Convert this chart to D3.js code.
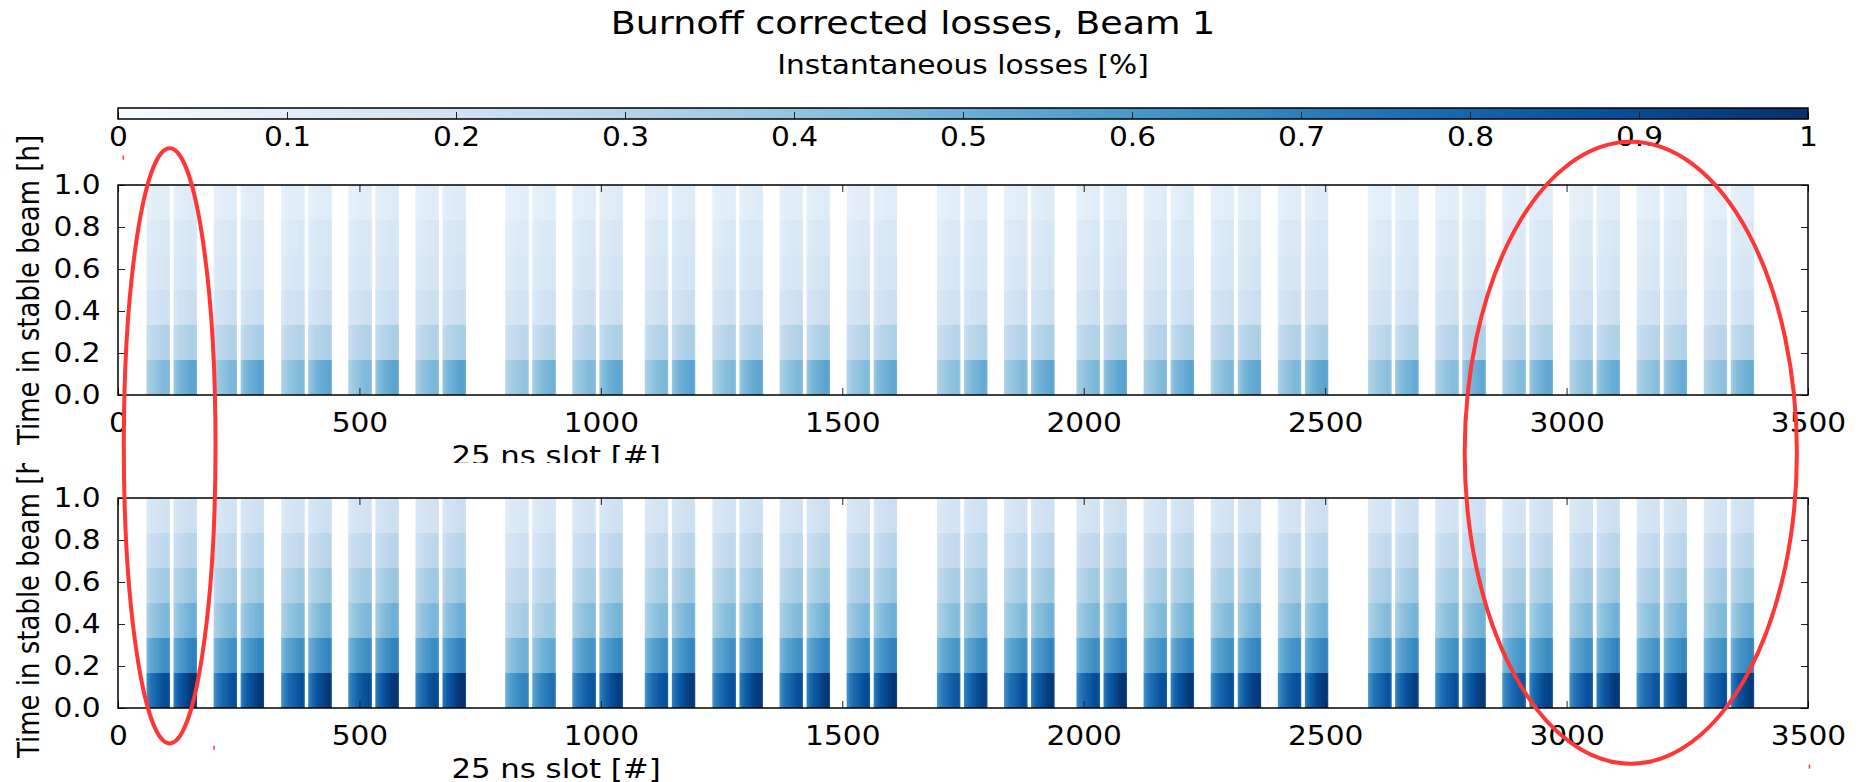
<!DOCTYPE html>
<html>
<head>
<meta charset="utf-8">
<script src="https://cdn.jsdelivr.net/npm/d3@7"></script>
<style>
  body { margin: 0; background: #fff; }
  svg { display: block; }
  text { font-family: "DejaVu Sans", sans-serif; fill: #000; }
</style>
</head>
<body>
<svg id="chart" width="1863" height="782"></svg>
<script>
// ---- filling scheme: first slot of each 2x48-bunch injection ----
const groupStarts = [59, 198, 338, 477, 616,
                     802, 941, 1091, 1231, 1370, 1509,
                     1696, 1835, 1985, 2124, 2263, 2402,
                     2589, 2728, 2867, 3006, 3145, 3284];
const trainOffsets = [0, 56];
const bunchesPerTrain = 48;

// time bins in stable beam [h]
const timeBinEdges = [0, 1 / 6, 2 / 6, 3 / 6, 4 / 6, 5 / 6, 1];

// mean instantaneous losses [%] per time bin: [first train, second train]
const lossesUpper = [[0.40, 0.48], [0.28, 0.30], [0.19, 0.20], [0.15, 0.16], [0.13, 0.14], [0.10, 0.11]];
const lossesLower = [[0.78, 0.86], [0.56, 0.60], [0.40, 0.43], [0.32, 0.34], [0.24, 0.26], [0.17, 0.19]];

// relative loss of each bunch along a 48-bunch train
const bunchProfile = [0.78, 0.80, 0.83, 0.82, 0.86, 0.88, 0.87, 0.90, 0.92, 0.91, 0.94, 0.95,
                      0.93, 0.96, 0.98, 0.97, 0.99, 1.00, 0.98, 1.01, 1.02, 1.00, 1.03, 1.04,
                      1.02, 1.05, 1.06, 1.04, 1.07, 1.06, 1.08, 1.09, 1.07, 1.10, 1.09, 1.11,
                      1.10, 1.12, 1.11, 1.13, 1.12, 1.12, 1.14, 1.13, 1.12, 1.10, 1.08, 1.04];

// relative loss of each injection
const injectionFactorUpper = [1.00, 1.02, 1.00, 1.01, 1.03, 0.90, 1.00, 1.02, 1.00, 1.01, 0.98, 0.95,
                              1.00, 1.02, 1.00, 1.00, 1.02, 0.95, 0.97, 0.98, 0.96, 0.95, 0.94];
const injectionFactorLower = [1.02, 1.00, 1.00, 1.02, 1.03, 0.78, 0.98, 1.00, 1.00, 1.00, 1.02, 0.97,
                              1.00, 1.02, 1.00, 1.00, 1.01, 0.98, 1.00, 0.97, 1.00, 0.98, 1.00];

const xTicks = [0, 500, 1000, 1500, 2000, 2500, 3000, 3500];
const yTicks = [0, 0.2, 0.4, 0.6, 0.8, 1.0];
const colorbarTicks = [0, 0.1, 0.2, 0.3, 0.4, 0.5, 0.6, 0.7, 0.8, 0.9, 1];
const colorbarTickLabels = ["0", "0.1", "0.2", "0.3", "0.4", "0.5", "0.6", "0.7", "0.8", "0.9", "1"];
const bluesStops = ["#f7fbff", "#deebf7", "#c6dbef", "#9ecae1", "#6baed6", "#4292c6", "#2171b5", "#08519c", "#08306b"];

// highlighted regions: centre and half-widths in [slot, h] of the upper panel
const highlights = [
  { cx: 107, cy: -0.242, rx: 95, ry: 1.417 },
  { cx: 3133, cy: -0.275, rx: 344, ry: 1.481 }
];
// small pen strokes left next to the highlights: [slot, h] of the upper panel
const penStrokes = [[11, 1.14], [199, -1.67], [3503, -1.76]];

// ---- layout ----
const W = 1863, H = 782;
const STRETCH = 1.14;
const left = 118, right = 1808, panelH = 210;
const panels = [
  { top: 185, clip: [0, 463], losses: lossesUpper, factor: injectionFactorUpper },
  { top: 498, clip: [463, H], losses: lossesLower, factor: injectionFactorLower }
];

const svg = d3.select("#chart");
const defs = svg.append("defs");

const color = d3.scaleLinear()
  .domain(bluesStops.map((_, i) => i / (bluesStops.length - 1)))
  .range(bluesStops)
  .interpolate(d3.interpolateRgb)
  .clamp(true);

const x = d3.scaleLinear().domain([0, 3500]).range([left, right]);

function addText(g, tx, ty, str, size, anchor, rotate) {
  return g.append("text")
    .attr("transform", `translate(${tx},${ty}) scale(${STRETCH},1)` + (rotate ? " rotate(-90)" : ""))
    .attr("text-anchor", anchor)
    .style("font-size", size + "px")
    .text(str);
}

// ---- heatmap panels ----
panels.forEach((p, pi) => {
  defs.append("clipPath").attr("id", "clip" + pi).append("rect")
    .attr("x", 0).attr("y", p.clip[0]).attr("width", W).attr("height", p.clip[1] - p.clip[0]);
  const g = svg.append("g").attr("clip-path", `url(#clip${pi})`);

  const y = d3.scaleLinear().domain([0, 1]).range([p.top + panelH, p.top]);

  const cells = [];
  groupStarts.forEach((gs, gi) => trainOffsets.forEach((off, ti) => {
    bunchProfile.forEach((rel, b) => {
      const slot = gs + off + b;
      p.losses.forEach((lv, k) => {
        cells.push({ slot, k, last: b === bunchesPerTrain - 1, v: Math.min(1, lv[ti] * rel * p.factor[gi]) });
      });
    });
  }));

  g.append("g").selectAll("rect").data(cells).join("rect")
    .attr("x", d => x(d.slot))
    .attr("width", d => x(d.slot + 1) - x(d.slot) + (d.last ? 0 : 0.7))
    .attr("y", d => y(timeBinEdges[d.k + 1]))
    .attr("height", d => y(timeBinEdges[d.k]) - y(timeBinEdges[d.k + 1]))
    .attr("fill", d => color(d.v));

  // axes with inward ticks on all four sides
  const styleTicks = sel => {
    sel.select(".domain").remove();
    sel.selectAll(".tick line").attr("stroke", "#222").attr("stroke-width", 1);
    sel.selectAll(".tick text").style("font-size", "26px").style("font-family", "DejaVu Sans").attr("fill", "#000");
  };
  const gxB = g.append("g").attr("transform", `translate(0,${p.top + panelH})`)
    .call(d3.axisBottom(x).tickValues(xTicks).tickSizeInner(-7).tickSizeOuter(0).tickPadding(18.5).tickFormat(d3.format("d")));
  styleTicks(gxB);
  gxB.selectAll(".tick text").attr("transform", `scale(${STRETCH},1)`);
  const gxT = g.append("g").attr("transform", `translate(0,${p.top})`)
    .call(d3.axisTop(x).tickValues(xTicks).tickSizeInner(-7).tickSizeOuter(0).tickFormat(""));
  styleTicks(gxT);
  const gyL = g.append("g").attr("transform", `translate(${left},0)`)
    .call(d3.axisLeft(y).tickValues(yTicks).tickSizeInner(-7).tickSizeOuter(0).tickPadding(17.5 / STRETCH).tickFormat(d3.format(".1f")));
  styleTicks(gyL);
  gyL.selectAll(".tick text").attr("transform", `scale(${STRETCH},1)`);
  const gyR = g.append("g").attr("transform", `translate(${right},0)`)
    .call(d3.axisRight(y).tickValues(yTicks).tickSizeInner(-7).tickSizeOuter(0).tickFormat(""));
  styleTicks(gyR);

  g.append("rect").attr("x", left).attr("y", p.top).attr("width", right - left).attr("height", panelH)
    .attr("fill", "none").attr("stroke", "#000").attr("stroke-width", 1.5);

  addText(g, 38.5, p.top + panelH / 2, "Time in stable beam [h]", 26, "middle", true);
  addText(g, 556, p.top + panelH + 70, "25 ns slot [#]", 27, "middle");
});

// ---- title and colorbar ----
const header = svg.append("g");
addText(header, 913, 33.5, "Burnoff corrected losses, Beam 1", 32, "middle");
addText(header, (left + right) / 2, 73.5, "Instantaneous losses [%]", 26, "middle");

const grad = defs.append("linearGradient").attr("id", "blues").attr("x1", 0).attr("x2", 1).attr("y1", 0).attr("y2", 0);
bluesStops.forEach((c, i) => grad.append("stop").attr("offset", i / (bluesStops.length - 1)).attr("stop-color", c));

const cbTop = 108, cbH = 11;
const cbScale = d3.scaleLinear().domain([0, 1]).range([left, right]);
header.append("rect").attr("x", left).attr("y", cbTop).attr("width", right - left).attr("height", cbH)
  .attr("fill", "url(#blues)");
const cbAxis = header.append("g").attr("transform", `translate(0,${cbTop + cbH})`)
  .call(d3.axisBottom(cbScale).tickValues(colorbarTicks).tickSizeInner(-7).tickSizeOuter(0).tickPadding(9)
    .tickFormat((d, i) => colorbarTickLabels[i]));
cbAxis.select(".domain").remove();
cbAxis.selectAll(".tick line").attr("stroke", "#222").attr("stroke-width", 1);
cbAxis.selectAll(".tick text").attr("transform", `scale(${STRETCH},1)`)
  .style("font-size", "26px").style("font-family", "DejaVu Sans").attr("fill", "#000");
header.append("rect").attr("x", left).attr("y", cbTop).attr("width", right - left).attr("height", cbH)
  .attr("fill", "none").attr("stroke", "#000").attr("stroke-width", 1.5);

// ---- highlighted regions ----
const yUp = d3.scaleLinear().domain([0, 1]).range([panels[0].top + panelH, panels[0].top]);
const notes = svg.append("g").attr("stroke", "#ff3636").attr("fill", "none");
notes.selectAll("ellipse").data(highlights).join("ellipse")
  .attr("cx", d => x(d.cx))
  .attr("cy", d => yUp(d.cy))
  .attr("rx", d => x(d.rx) - x(0))
  .attr("ry", d => yUp(0) - yUp(d.ry))
  .attr("stroke-width", 4);
notes.selectAll("line").data(penStrokes).join("line")
  .attr("x1", d => x(d[0])).attr("x2", d => x(d[0]))
  .attr("y1", d => yUp(d[1])).attr("y2", d => yUp(d[1]) + 4)
  .attr("stroke-width", 1.5);
</script>
</body>
</html>
